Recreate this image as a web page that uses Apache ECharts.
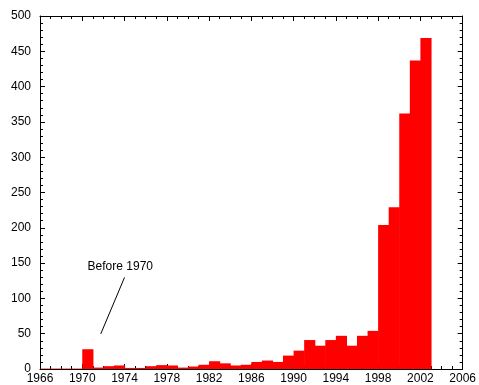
<!DOCTYPE html>
<html>
<head>
<meta charset="utf-8">
<script src="https://cdn.jsdelivr.net/npm/echarts@6/dist/echarts.min.js"></script>
<style>
html,body{margin:0;padding:0;background:#fff;}
#main{width:479px;height:385px;}
</style>
</head>
<body>
<div id="main"></div>
<script>
// Data
const years = [1966,1967,1968,1969,1970,1971,1972,1973,1974,1975,1976,1977,1978,1979,1980,1981,1982,1983,1984,1985,1986,1987,1988,1989,1990,1991,1992,1993,1994,1995,1996,1997,1998,1999,2000,2001,2002];
const counts = [0.6,0.6,0.6,0.6,28,2,4,5,1.5,1.5,4,5.5,5,2,3.5,6,11,8,5,6,10,12,10,19,26,41,33,41,47,33,47,54,204,229,362,437,469];
const xTicks = {min:1966, max:2006, interval:4};
const yTicks = {min:0, max:500, interval:50};
const annotationText = 'Before 1970';

const chart = echarts.init(document.getElementById('main'), null, {renderer:'canvas'});
const font = 'Liberation Sans, Arial, Helvetica, sans-serif';

function axisCommon(showLabel, pos){
  return {
    type:'value',
    position: pos,
    axisLine:{show:true, onZero:false, lineStyle:{color:'#000', width:1}},
    axisTick:{show:true, inside:true, length:5, lineStyle:{color:'#000', width:1}},
    splitLine:{show:false},
    axisLabel:{show:showLabel, color:'#000', fontSize:12, fontFamily:font, formatter:function(v){return String(v);}}
  };
}

const xb = Object.assign(axisCommon(true,'bottom'), xTicks, {minorTick:{show:true,splitNumber:4,length:3,lineStyle:{color:'#000'}}});
xb.axisLabel.margin = 4;
const xt = Object.assign(axisCommon(false,'top'), xTicks, {minorTick:{show:true,splitNumber:4,length:3,lineStyle:{color:'#000'}}});
const yl = Object.assign(axisCommon(true,'left'), yTicks, {minorTick:{show:true,splitNumber:5,length:3,lineStyle:{color:'#000'}}});
yl.axisLabel.margin = 9;
const yr = Object.assign(axisCommon(false,'right'), yTicks, {minorTick:{show:true,splitNumber:5,length:3,lineStyle:{color:'#000'}}});

const data = years.map((y,i)=>[y, counts[i]]);

chart.setOption({
  animation:false,
  backgroundColor:'#fff',
  grid:{left:40, right:15, top:16, bottom:15.5, containLabel:false},
  xAxis:[xb, xt],
  yAxis:[yl, yr],
  series:[{
    type:'custom',
    xAxisIndex:0, yAxisIndex:0,
    data:data,
    renderItem:function(params, api){
      const p0 = api.coord([api.value(0), api.value(1)]);
      const p1 = api.coord([api.value(0)+1, 0]);
      return {
        type:'rect',
        shape:{x:p0[0], y:p0[1], width:p1[0]-p0[0]+0.6, height:p1[1]-p0[1]},
        style:{fill:'#ff0000'}
      };
    },
    markLine:{
      silent:true,
      symbol:['none','none'],
      label:{show:false},
      lineStyle:{color:'#000', width:1, type:'solid'},
      data:[[{coord:[1971.75, 49.7]},{coord:[1974.0, 129.7]}]]
    },
    markPoint:{
      silent:true,
      symbol:'circle', symbolSize:0,
      label:{show:true, position:'inside', formatter:annotationText, color:'#000', fontSize:12, fontFamily:font},
      data:[{coord:[1973.6, 145]}]
    }
  }]
});
</script>
</body>
</html>
